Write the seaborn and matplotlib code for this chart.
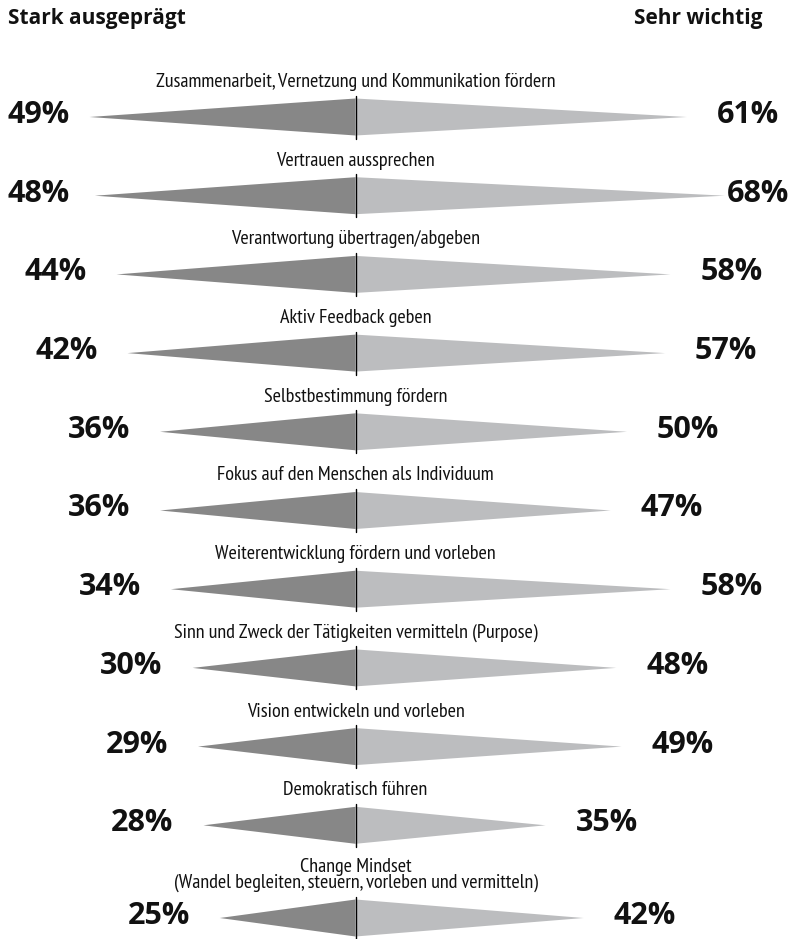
import matplotlib
matplotlib.use("Agg")
import matplotlib.pyplot as plt
import seaborn as sns

sns.set_theme(style="white")

# Data
categories = [
    "Zusammenarbeit, Vernetzung und Kommunikation fördern",
    "Vertrauen aussprechen",
    "Verantwortung übertragen/abgeben",
    "Aktiv Feedback geben",
    "Selbstbestimmung fördern",
    "Fokus auf den Menschen als Individuum",
    "Weiterentwicklung fördern und vorleben",
    "Sinn und Zweck der Tätigkeiten vermitteln (Purpose)",
    "Vision entwickeln und vorleben",
    "Demokratisch führen",
    "Change Mindset\n(Wandel begleiten, steuern, vorleben und vermitteln)",
]
stark_ausgepraegt = [49, 48, 44, 42, 36, 36, 34, 30, 29, 28, 25]
sehr_wichtig = [61, 68, 58, 57, 50, 47, 58, 48, 49, 35, 42]
header_left = "Stark ausgeprägt"
header_right = "Sehr wichtig"

LEFT_COLOR = "#878787"
RIGHT_COLOR = "#bcbdbf"
TEXT_COLOR = "#111111"

W, H = 791, 939
PX_PER_PCT = 5.43
CENTER_PX = 355.5

fig = plt.figure(figsize=(W / 100, H / 100), dpi=100)
ax = fig.add_axes([0, 0, 1, 1])
ax.set_xlim(-CENTER_PX / PX_PER_PCT, (W - CENTER_PX) / PX_PER_PCT)
ax.set_ylim(H, 0)
ax.axis("off")

label_font = ["PT Sans Narrow", "DejaVu Sans"]
bold_font = ["Open Sans", "DejaVu Sans"]

half_h = 18.5
gap = 30 / PX_PER_PCT  # distance tip -> percent label
y = 117
pct_texts = []
for cat, lv, rv in zip(categories, stark_ausgepraegt, sehr_wichtig):
    if "\n" in cat:
        y += 14
    # left (dark) and right (light) triangles
    ax.fill([0, -lv, 0], [y - half_h, y, y + half_h], color=LEFT_COLOR, lw=0)
    ax.fill([0, rv, 0], [y - half_h, y, y + half_h], color=RIGHT_COLOR, lw=0)
    ax.plot([0, 0], [y - 21.5, y + 21.5], color="black", lw=1.0)

    ax.text(0, y - 26, cat, ha="center", va="bottom", fontsize=14.5,
            family=label_font, linespacing=0.85, color=TEXT_COLOR)
    tl = ax.text(-lv - gap, y - 2, f"{lv}%", ha="right", va="center",
                 fontsize=22, fontweight="bold", family=bold_font, color=TEXT_COLOR)
    tr = ax.text(rv + gap, y - 2, f"{rv}%", ha="left", va="center",
                 fontsize=22, fontweight="bold", family=bold_font, color=TEXT_COLOR)
    pct_texts.append((tl, tr))
    y += 78.7

x0, x1 = ax.get_xlim()
ax.text(x0 + 8 / PX_PER_PCT, 8, header_left, ha="left", va="top",
        fontsize=15, fontweight="bold", family=bold_font, color=TEXT_COLOR)
ax.text(x0 + 763 / PX_PER_PCT, 8, header_right, ha="right", va="top",
        fontsize=15, fontweight="bold", family=bold_font, color=TEXT_COLOR)

# keep percent labels inside the figure
fig.canvas.draw()
renderer = fig.canvas.get_renderer()
for tl, tr in pct_texts:
    bl = tl.get_window_extent(renderer)
    if bl.x0 < 8:
        tl.set_x(tl.get_position()[0] + (8 - bl.x0) / PX_PER_PCT)
    br = tr.get_window_extent(renderer)
    if br.x1 > W - 2:
        tr.set_x(tr.get_position()[0] - (br.x1 - (W - 2)) / PX_PER_PCT)

fig.savefig("out.png", dpi=100, facecolor="white")
